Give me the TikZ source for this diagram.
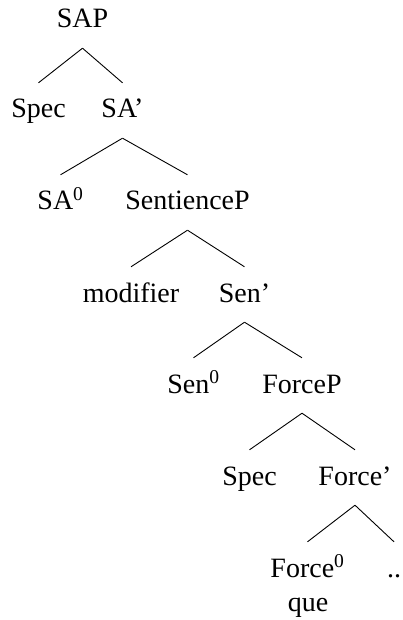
\documentclass[tikz,border=0pt]{standalone}
\usepackage{fontspec}
\setmainfont{Liberation Serif}
\begin{document}
\begin{tikzpicture}[x=1pt,y=-1pt,
  lbl/.style={anchor=base,inner sep=0pt,text height=20pt,text depth=7pt,font=\fontsize{28}{32}\selectfont},
  edge/.style={line width=0.9pt}]
\useasboundingbox (0,0) rectangle (403,620);
\node[lbl] (sap) at (82.5,28) {SAP};
\node[lbl] (spec1) at (38.5,118) {Spec};
\node[lbl] (sabar) at (122.5,118) {SA’};
\node[lbl] (sa0) at (60.5,210) {SA\textsuperscript{0}};
\node[lbl] (sentp) at (187.5,210) {SentienceP};
\node[lbl] (modif) at (131,302) {modifier};
\node[lbl] (senbar) at (244.5,302) {Sen’};
\node[lbl] (sen0) at (193.5,393) {Sen\textsuperscript{0}};
\node[lbl] (forcep) at (302,393) {ForceP};
\node[lbl] (spec2) at (249.5,485) {Spec};
\node[lbl] (forcebar) at (355,485) {Force’};
\node[lbl] (force0) at (307.5,577) {Force\textsuperscript{0}};
\node[lbl] (dots) at (394,577) {..};
\node[lbl] (que) at (308,611) {que};
\foreach \p/\c in {sap/spec1,sap/sabar,sabar/sa0,sabar/sentp,sentp/modif,sentp/senbar,senbar/sen0,senbar/forcep,forcep/spec2,forcep/forcebar,forcebar/force0,forcebar/dots}
  \draw[edge] ([yshift=-13pt]\p.south) -- ([yshift=15pt]\c.north);
\end{tikzpicture}
\end{document}
